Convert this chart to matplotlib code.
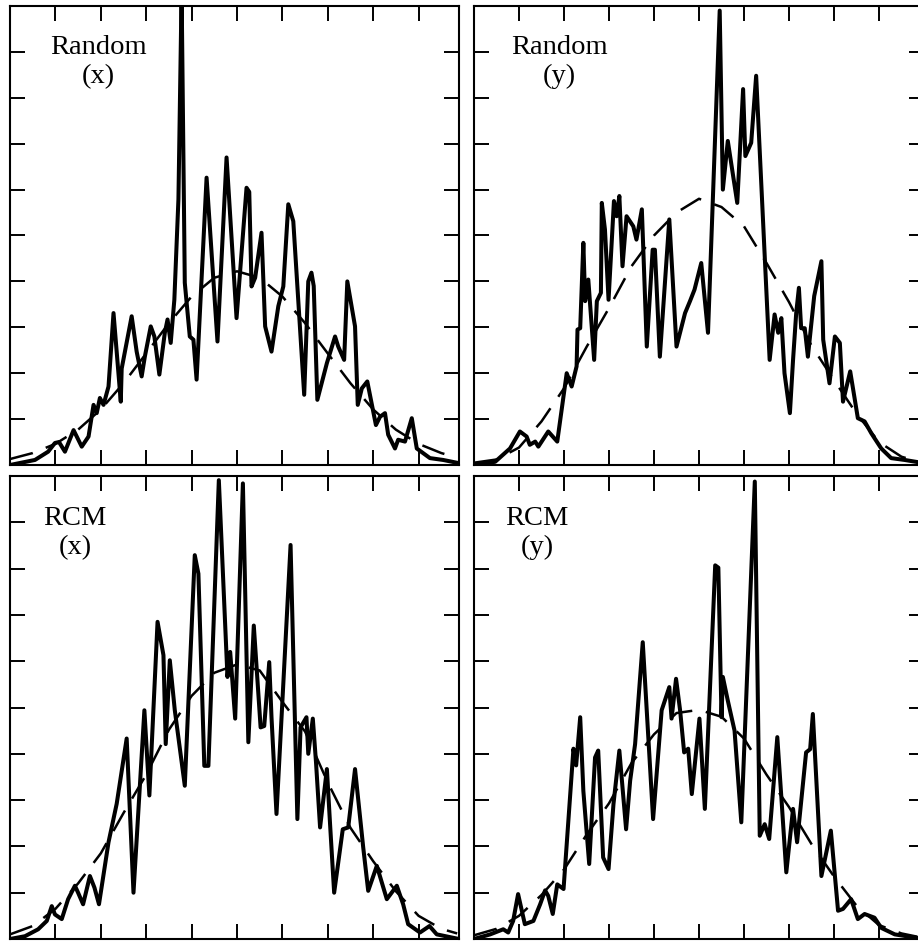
import matplotlib
matplotlib.use('Agg')
import matplotlib.pyplot as plt

plt.rcParams['lines.scale_dashes'] = False
plt.rcParams['font.family'] = ['Liberation Serif', 'DejaVu Serif']

# ---- Random (x) ----
rx_x = [0, 0.55, 0.84, 0.99, 1.08, 1.21, 1.40, 1.58, 1.73, 1.84, 1.91, 1.98, 2.06, 2.17,
        2.28, 2.44, 2.46, 2.68, 2.79, 2.90, 2.97, 3.10, 3.18, 3.29, 3.41, 3.47, 3.54, 3.62,
        3.71, 3.78, 3.85, 3.96, 4.04, 4.11, 4.33, 4.57, 4.77, 4.99, 5.21, 5.27, 5.32, 5.40,
        5.54, 5.62, 5.76, 5.91, 6.02, 6.13, 6.24, 6.48, 6.57, 6.64, 6.69, 6.77, 6.98, 7.16,
        7.23, 7.36, 7.43, 7.60, 7.66, 7.75, 7.87, 8.06, 8.15, 8.26, 8.33, 8.48, 8.55, 8.70,
        8.85, 8.96, 9.25, 9.54, 9.89]
rx_y = [0, 0.11, 0.29, 0.48, 0.50, 0.29, 0.76, 0.40, 0.62, 1.31, 1.13, 1.46, 1.31, 1.71,
        3.31, 1.38, 2.10, 3.24, 2.47, 1.93, 2.36, 3.02, 2.80, 1.97, 2.88, 3.17, 2.66, 3.60,
        5.79, 10.3, 3.97, 2.80, 2.73, 1.86, 6.26, 2.69, 6.70, 3.20, 6.04, 5.95, 3.89, 4.08,
        5.06, 3.02, 2.47, 3.46, 3.89, 5.68, 5.31, 1.53, 4.00, 4.19, 3.90, 1.42, 2.22, 2.80,
        2.58, 2.29, 4.00, 3.02, 1.31, 1.67, 1.82, 0.87, 1.05, 1.13, 0.66, 0.36, 0.55, 0.51,
        1.02, 0.36, 0.15, 0.11, 0.04]

# ---- Random (y) ----
ry_x = [0, 0.47, 0.80, 1.02, 1.17, 1.24, 1.36, 1.43, 1.65, 1.85, 2.06, 2.17, 2.28, 2.30,
        2.36, 2.43, 2.47, 2.54, 2.67, 2.73, 2.82, 2.84, 2.91, 2.99, 3.11, 3.17, 3.23, 3.30,
        3.39, 3.54, 3.61, 3.73, 3.84, 3.97, 4.02, 4.13, 4.34, 4.50, 4.69, 4.80, 4.90, 5.05,
        5.20, 5.46, 5.53, 5.64, 5.85, 5.98, 6.03, 6.16, 6.27, 6.57, 6.68, 6.76, 6.83, 6.90,
        7.02, 7.09, 7.16, 7.22, 7.27, 7.35, 7.42, 7.56, 7.72, 7.76, 7.90, 8.02, 8.13, 8.20,
        8.36, 8.53, 8.68, 8.83, 9.05, 9.27, 9.57, 10.0]
ry_y = [0, 0.07, 0.36, 0.73, 0.62, 0.44, 0.51, 0.40, 0.73, 0.51, 2.00, 1.71, 2.15, 2.95,
        2.98, 4.84, 3.57, 4.04, 2.29, 3.57, 3.75, 5.71, 5.13, 3.60, 5.75, 5.42, 5.86, 4.33,
        5.42, 5.20, 4.91, 5.57, 2.58, 4.69, 4.69, 2.36, 5.35, 2.58, 3.31, 3.57, 3.82, 4.40,
        2.88, 9.90, 6.00, 7.06, 5.71, 8.19, 6.73, 7.02, 8.48, 2.29, 3.28, 2.88, 3.20, 2.00,
        1.13, 2.29, 3.31, 3.86, 2.98, 2.98, 2.36, 3.68, 4.44, 2.73, 1.78, 2.80, 2.66, 1.38,
        2.04, 1.02, 0.95, 0.69, 0.36, 0.15, 0.11, 0.04]

# ---- RCM (x) ----
cx_x = [0, 0.33, 0.62, 0.81, 0.92, 0.99, 1.14, 1.28, 1.43, 1.50, 1.61, 1.76, 1.86, 1.96,
        2.17, 2.35, 2.57, 2.72, 2.96, 3.07, 3.25, 3.38, 3.43, 3.52, 3.63, 3.85, 4.07, 4.15,
        4.28, 4.37, 4.60, 4.79, 4.85, 4.96, 5.13, 5.25, 5.37, 5.52, 5.60, 5.71, 5.76, 5.87,
        6.18, 6.33, 6.40, 6.53, 6.57, 6.67, 6.74, 6.83, 6.98, 7.05, 7.14, 7.33, 7.45, 7.60,
        7.78, 7.89, 8.08, 8.30, 8.52, 8.66, 8.77, 9.03, 9.24, 9.40, 9.89]
cx_y = [0, 0.06, 0.21, 0.39, 0.71, 0.53, 0.43, 0.86, 1.15, 1.00, 0.75, 1.36, 1.11, 0.75,
        2.09, 2.92, 4.33, 1.00, 4.94, 3.10, 6.85, 6.13, 4.21, 6.02, 4.94, 3.31, 8.29, 7.89,
        3.74, 3.74, 9.91, 5.66, 6.20, 4.76, 9.84, 4.25, 6.77, 4.57, 4.60, 5.98, 4.79, 2.70,
        8.51, 2.59, 4.57, 4.79, 4.00, 4.76, 3.82, 2.41, 3.67, 2.48, 1.00, 2.37, 2.41, 3.67,
        1.98, 1.04, 1.58, 0.86, 1.15, 0.75, 0.32, 0.14, 0.28, 0.10, 0]

# ---- RCM (y) ----
cy_x = [0, 0.36, 0.65, 0.76, 0.87, 0.98, 1.13, 1.32, 1.47, 1.58, 1.65, 1.75, 1.85, 1.99,
        2.21, 2.27, 2.36, 2.43, 2.56, 2.69, 2.76, 2.87, 2.99, 3.10, 3.23, 3.38, 3.47, 3.58,
        3.75, 3.98, 4.17, 4.34, 4.39, 4.49, 4.58, 4.67, 4.76, 4.84, 5.01, 5.13, 5.36, 5.43,
        5.50, 5.53, 5.64, 5.79, 5.94, 6.24, 6.35, 6.46, 6.56, 6.74, 6.83, 6.94, 7.09, 7.18,
        7.38, 7.47, 7.53, 7.72, 7.93, 8.09, 8.20, 8.38, 8.53, 8.68, 8.90, 9.05, 9.35, 10.0]
cy_y = [0, 0.10, 0.21, 0.14, 0.39, 0.97, 0.32, 0.39, 0.75, 1.05, 0.93, 0.54, 1.18, 1.08,
        4.11, 3.75, 4.79, 3.20, 1.62, 3.92, 4.07, 1.76, 1.51, 2.92, 4.07, 2.37, 3.42, 4.21,
        6.41, 2.59, 4.94, 5.44, 4.76, 5.62, 4.94, 4.03, 4.11, 3.13, 4.76, 2.81, 8.07, 8.02,
        4.79, 5.66, 5.15, 4.50, 2.52, 9.88, 2.23, 2.48, 2.16, 4.36, 3.06, 1.44, 2.81, 2.09,
        4.03, 4.10, 4.86, 1.36, 2.34, 0.61, 0.65, 0.86, 0.43, 0.54, 0.46, 0.24, 0.10, 0]

# fitted (dashed) curves, read at half-tick steps
fit_x = [0, 0.5, 1.0, 1.5, 2.0, 2.5, 3.0, 3.5, 4.0, 4.5, 5.0, 5.5, 6.0, 6.5, 7.0, 7.5,
         8.0, 8.5, 9.0, 9.5, 9.85]
fit_rx = [0.13, 0.26, 0.46, 0.77, 1.21, 1.78, 2.43, 3.09, 3.67, 4.08, 4.22, 4.08, 3.67,
          3.09, 2.43, 1.78, 1.21, 0.77, 0.46, 0.26, 0.16]
fit_ry = [0.05, 0.12, 0.38, 0.95, 1.67, 2.57, 3.42, 4.33, 5.00, 5.50, 5.80, 5.62, 5.20,
          4.40, 3.55, 2.60, 1.85, 1.12, 0.50, 0.18, 0.08]
fit_cx = [0.10, 0.28, 0.65, 1.20, 1.85, 2.72, 3.55, 4.52, 5.25, 5.75, 5.93, 5.80, 5.12,
          4.48, 3.38, 2.40, 1.68, 1.03, 0.50, 0.22, 0.12]
fit_cy = [0.08, 0.22, 0.50, 0.95, 1.50, 2.25, 2.93, 3.80, 4.42, 4.88, 4.95, 4.80, 4.33,
          3.55, 2.85, 2.05, 1.35, 0.72, 0.30, 0.12, 0.05]

W, H = 918, 941
fig = plt.figure(figsize=(W / 100, H / 100), dpi=100)
fig.patch.set_facecolor('white')

# panel rects in pixels: (left, top, right, bottom)
panels = [
    ((10, 6, 459, 465), 9.89, rx_x, rx_y, fit_rx, 'Random', '(x)', 0.197),
    ((474, 6, 924, 465), 10.0, ry_x, ry_y, fit_ry, 'Random', '(y)', 0.190),
    ((10, 476, 459, 939), 9.89, cx_x, cx_y, fit_cx, 'RCM', '(x)', 0.145),
    ((474, 476, 924, 939), 10.0, cy_x, cy_y, fit_cy, 'RCM', '(y)', 0.140),
]

for (l, t, r, b), xmax, xs, ys, fit, name, axis_lbl, tx in panels:
    ax = fig.add_axes([l / W, (H - b) / H, (r - l) / W, (b - t) / H])
    ax.plot(fit_x, fit, color='black', lw=1.8, linestyle=(0, (17, 10)))
    ax.plot(xs, ys, color='black', lw=2.9, solid_joinstyle='round')
    ax.set_xlim(0, xmax)
    ax.set_ylim(0, 10)
    ax.set_xticks(range(1, 10))
    ax.set_yticks(range(1, 10))
    ax.tick_params(direction='in', length=10.8, width=1.4, top=True, right=True,
                   labelbottom=False, labelleft=False)
    for s in ax.spines.values():
        s.set_linewidth(1.5)
    ax.text(tx, 0.895, name, transform=ax.transAxes, ha='center', va='baseline',
            fontsize=20.5)
    ax.text(tx, 0.832, axis_lbl, transform=ax.transAxes, ha='center', va='baseline',
            fontsize=20.5)

fig.savefig('out.png', dpi=100, facecolor='white')
